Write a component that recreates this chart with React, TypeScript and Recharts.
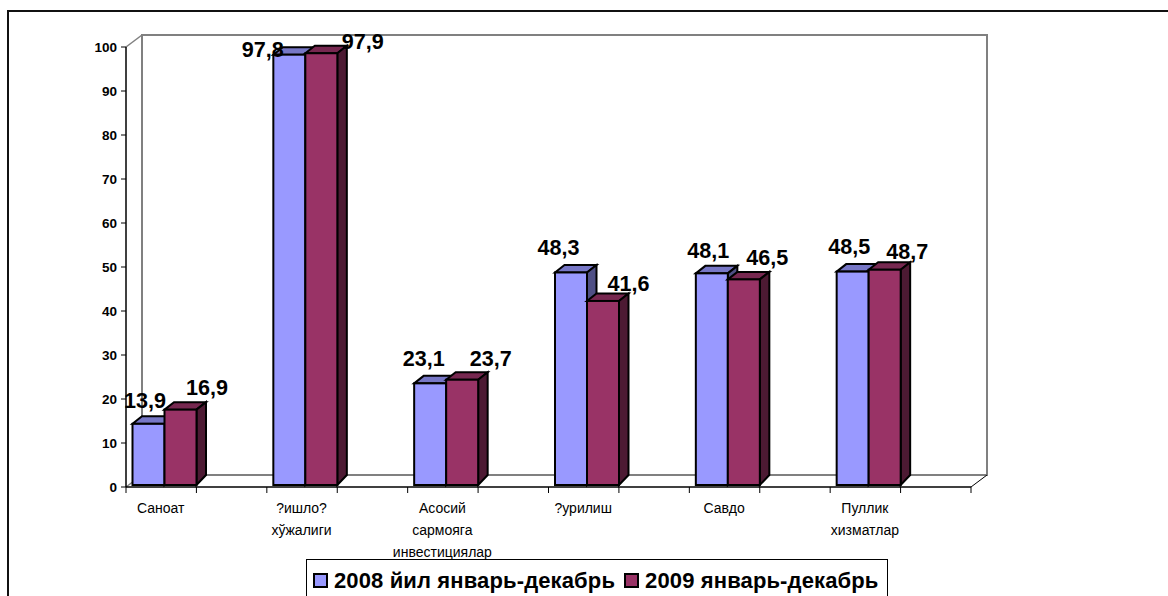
import React from "react";
import { BarChart, Bar, XAxis, YAxis, Legend, LabelList } from "recharts";

const categories = ["Саноат", "?ишло?\nхўжалиги", "Асосий\nсармояга\nинвестициялар", "?урилиш", "Савдо", "Пуллик\nхизматлар"];
const series2008 = [13.9, 97.8, 23.1, 48.3, 48.1, 48.5];
const series2009 = [16.9, 97.9, 23.7, 41.6, 46.5, 48.7];
const yTicks = [0, 10, 20, 30, 40, 50, 60, 70, 80, 90, 100];
const name2008 = "2008 йил январь-декабрь";
const name2009 = "2009 январь-декабрь";

// manually dragged data label nudges, as in the source chart: [dx, dy]
const labelNudge2008 = [[0, -18], [-23, 0], [-3, -19], [-9, -19], [0, -17], [0, -20]];
const labelNudge2009 = [[30, -18], [45, -7], [32, -17], [29, -13], [27, -17], [26, -14]];

// every second slot of the category axis is empty
const rows = categories.flatMap((c, i) => [
  { slot: i * 2, a: series2008[i], b: series2009[i] },
  { slot: i * 2 + 1, a: null, b: null },
]);

const W = 1168, H = 596;
const LEFT = 126, RIGHT = 971, TOP = 47, BOTTOM = 487;
const DEPTH_X = 16, DEPTH_Y = 12;
const SLOT = (RIGHT - LEFT) / rows.length;
const FONT = "'Liberation Sans', Arial, sans-serif";

const bar3D = (front: string, top: string, side: string, lift: number) => (p: any) => {
  if (p.value == null || !(p.height > 0)) return null;
  const x = p.x + 3.5, w = p.width, yT = p.y - lift, yB = p.y + p.height - 2;
  const dx = 9.5, dyT = 7.5, dyB = 10;
  return (
    <g stroke="#000" strokeWidth={2} strokeLinejoin="miter">
      <path d={`M${x},${yT} L${x + dx},${yT - dyT} L${x + w + dx},${yT - dyT} L${x + w},${yT} Z`} fill={top} />
      <path d={`M${x + w},${yT} L${x + w + dx},${yT - dyT} L${x + w + dx},${yB - dyB} L${x + w},${yB} Z`} fill={side} />
      <rect x={x} y={yT} width={w} height={yB - yT} fill={front} />
    </g>
  );
};

const dataLabel = (nudges: number[][]) => (p: any) => {
  if (p.value == null) return null;
  const n = nudges[p.index];
  return (
    <text
      x={p.x + p.width / 2 + n[0]}
      y={p.y + n[1]}
      textAnchor="middle"
      fontFamily={FONT}
      fontWeight="bold"
      fontSize={22}
      textLength={42}
      lengthAdjust="spacingAndGlyphs"
      fill="#000"
    >
      {String(p.value).replace(".", ",")}
    </text>
  );
};

const CategoryTick = (p: any) => {
  const slot = p.payload.value as number;
  const left = p.x - SLOT / 2;
  const text = slot % 2 === 0 ? categories[slot / 2] : "";
  return (
    <g>
      <line x1={left} x2={left} y1={BOTTOM} y2={BOTTOM + 6} stroke="#000" strokeWidth={1} />
      {slot === rows.length - 1 && (
        <line x1={left + SLOT} x2={left + SLOT} y1={BOTTOM} y2={BOTTOM + 6} stroke="#000" strokeWidth={1} />
      )}
      {text.split("\n").map((line, i) => (
        <text key={i} x={p.x - 0.5} y={BOTTOM + 26 + i * 22} textAnchor="middle" fontFamily={FONT} fontSize={14} fill="#000">
          {line}
        </text>
      ))}
    </g>
  );
};

const LegendBox = (props: any) => (
  <div
    style={{
      boxSizing: "border-box",
      width: 582,
      height: 50,
      background: "#fff",
      border: "1px solid #000",
      borderBottom: "none",
      fontFamily: FONT,
      fontWeight: "bold",
      fontSize: 22,
      letterSpacing: 0.13,
      lineHeight: "24px",
      color: "#000",
      display: "flex",
      paddingLeft: 6,
      paddingTop: 9,
      whiteSpace: "nowrap",
    }}
  >
    {(props.payload || []).map((e: any) => (
      <span key={e.value} style={{ display: "inline-flex", alignItems: "flex-start", marginRight: 9 }}>
        <span
          style={{
            boxSizing: "border-box",
            display: "inline-block",
            width: 15,
            height: 15,
            marginTop: 4,
            marginRight: 6,
            background: e.color,
            border: "2px solid #000",
          }}
        />
        {e.value}
      </span>
    ))}
  </div>
);

export default function App() {
  return (
    <div style={{ position: "fixed", left: 0, top: 0, width: W, height: H, overflow: "hidden", background: "#fff" }}>
      <div style={{ position: "absolute", left: 7, top: 10, right: 0, bottom: 0, borderLeft: "2px solid #111", borderTop: "2px solid #111" }} />
      <BarChart
        width={W}
        height={H}
        data={rows}
        margin={{ left: 0, top: TOP, right: W - RIGHT, bottom: 0 }}
        barSize={32}
        barGap={0}
        style={{ position: "absolute", left: 0, top: 0 }}
      >
        <rect x={LEFT + DEPTH_X} y={TOP - DEPTH_Y} width={RIGHT - LEFT} height={BOTTOM - TOP} fill="#fff" stroke="#808080" strokeWidth={2} />
        <line x1={LEFT} y1={TOP} x2={LEFT + DEPTH_X} y2={TOP - DEPTH_Y} stroke="#808080" strokeWidth={1.5} />
        <line x1={LEFT} y1={BOTTOM} x2={LEFT + DEPTH_X} y2={BOTTOM - DEPTH_Y} stroke="#808080" strokeWidth={1.5} />
        <line x1={RIGHT} y1={BOTTOM} x2={RIGHT + DEPTH_X} y2={BOTTOM - DEPTH_Y} stroke="#000" strokeWidth={1} />
        <XAxis
          dataKey="slot"
          type="category"
          interval={0}
          height={H - BOTTOM}
          tickLine={false}
          axisLine={{ stroke: "#000", strokeWidth: 1.5 }}
          tick={CategoryTick}
        />
        <YAxis
          width={LEFT}
          domain={[0, 100]}
          ticks={yTicks}
          interval={0}
          tickSize={5}
          tickMargin={4}
          tickLine={{ stroke: "#000", strokeWidth: 1 }}
          axisLine={{ stroke: "#000", strokeWidth: 1.5 }}
          tick={{ fill: "#000", fontFamily: FONT, fontWeight: "bold", fontSize: 13.5 }}
        />
        <Bar dataKey="a" name={name2008} fill="#9999FF" isAnimationActive={false} shape={bar3D("#9999FF", "#7777C6", "#4F4F85", 2)}>
          <LabelList dataKey="a" content={dataLabel(labelNudge2008)} />
        </Bar>
        <Bar dataKey="b" name={name2009} fill="#993366" isAnimationActive={false} shape={bar3D("#993366", "#772850", "#4D1A33", 3)}>
          <LabelList dataKey="b" content={dataLabel(labelNudge2009)} />
        </Bar>
        <Legend
          layout="horizontal"
          verticalAlign="middle"
          align="center"
          content={LegendBox}
          wrapperStyle={{ left: 306, top: 559, width: 582, height: 50, bottom: "auto", right: "auto", margin: 0 }}
        />
      </BarChart>
    </div>
  );
}
